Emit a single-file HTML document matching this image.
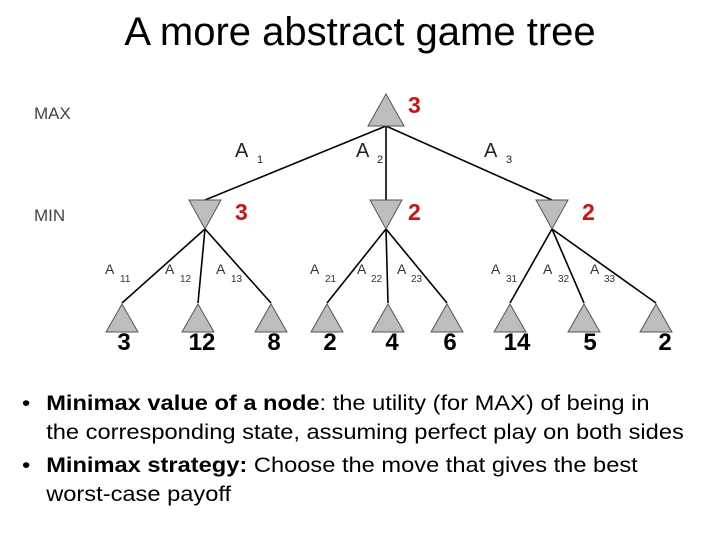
<!DOCTYPE html><html><head><style>
body{margin:0;width:720px;height:540px;background:#fff;overflow:hidden;font-family:"Liberation Sans",sans-serif;position:relative}
.t{position:absolute;left:0;width:720px;text-align:center;top:10px;font-size:40px;color:#000}
.b{position:absolute;left:22px;width:610px;font-size:21.5px;color:#000;line-height:29px;transform:scaleX(1.1);transform-origin:0 0;white-space:nowrap}
.b span.d{position:absolute;left:0}
.b div{padding-left:22px}
</style></head><body>
<div class="t">A more abstract game tree</div>
<svg width="720" height="360" style="position:absolute;left:0;top:0" font-family="Liberation Sans, sans-serif">
<g stroke="#000" stroke-width="1.6" fill="none">
<line x1="386" y1="126" x2="205" y2="200"/><line x1="386" y1="126" x2="386" y2="200"/><line x1="386" y1="126" x2="552" y2="200"/>
<line x1="205" y1="229" x2="122" y2="303"/><line x1="205" y1="229" x2="198" y2="303"/><line x1="205" y1="229" x2="271" y2="303"/>
<line x1="386" y1="229" x2="327" y2="303"/><line x1="386" y1="229" x2="388" y2="303"/><line x1="386" y1="229" x2="447" y2="303"/>
<line x1="552" y1="229" x2="510" y2="303"/><line x1="552" y1="229" x2="584" y2="303"/><line x1="552" y1="229" x2="656" y2="303"/>
</g>
<g fill="#bdbdbd" stroke="#555" stroke-width="1">
<polygon points="386,94 368,126 404,126"/>
<polygon points="189,200 221,200 205,229"/><polygon points="370,200 402,200 386,229"/><polygon points="536,200 568,200 552,229"/>
<polygon points="122,304 106,332 138,332"/><polygon points="198,304 182,332 214,332"/><polygon points="271,304 255,332 287,332"/>
<polygon points="327,304 311,332 343,332"/><polygon points="388,304 372,332 404,332"/><polygon points="447,304 431,332 463,332"/>
<polygon points="510,304 494,332 526,332"/><polygon points="584,304 568,332 600,332"/><polygon points="656,304 640,332 672,332"/>
</g>
<g fill="#444" font-size="17"><text x="34" y="119">MAX</text><text x="34" y="221">MIN</text></g>
<g fill="#d01010" font-size="23" font-weight="bold"><text x="408" y="113">3</text><text x="235" y="220">3</text><text x="408" y="220">2</text><text x="582" y="220">2</text></g>
<g font-size="24" font-weight="bold" text-anchor="middle" fill="#000">
<text x="124" y="350">3</text><text x="202" y="350">12</text><text x="274" y="350">8</text><text x="330" y="350">2</text><text x="392" y="350">4</text><text x="450" y="350">6</text><text x="517" y="350">14</text><text x="590" y="350">5</text><text x="665" y="350">2</text></g>
<g fill="#222" font-size="20"><text x="235" y="157">A</text><text x="356" y="157">A</text><text x="484" y="157">A</text></g>
<g fill="#222" font-size="11"><text x="257" y="163">1</text><text x="377" y="163">2</text><text x="506" y="163">3</text></g>
<g fill="#333" font-size="14"><text x="105" y="274">A</text><text x="165" y="274">A</text><text x="216" y="274">A</text><text x="310" y="274">A</text><text x="357" y="274">A</text><text x="397" y="274">A</text><text x="491" y="274">A</text><text x="543" y="274">A</text><text x="590" y="274">A</text></g>
<g fill="#333" font-size="10"><text x="120" y="282">11</text><text x="180" y="282">12</text><text x="231" y="282">13</text><text x="325" y="282">21</text><text x="371" y="282">22</text><text x="411" y="282">23</text><text x="506" y="282">31</text><text x="558" y="282">32</text><text x="604" y="282">33</text></g>
</svg>
<div class="b" style="top:389px"><span class="d">•</span><div><b>Minimax value of a node</b>: the utility (for MAX) of being in<br>the corresponding state, assuming perfect play on both sides</div></div>
<div class="b" style="top:451px"><span class="d">•</span><div><b>Minimax strategy:</b> Choose the move that gives the best<br>worst-case payoff</div></div>
</body></html>
